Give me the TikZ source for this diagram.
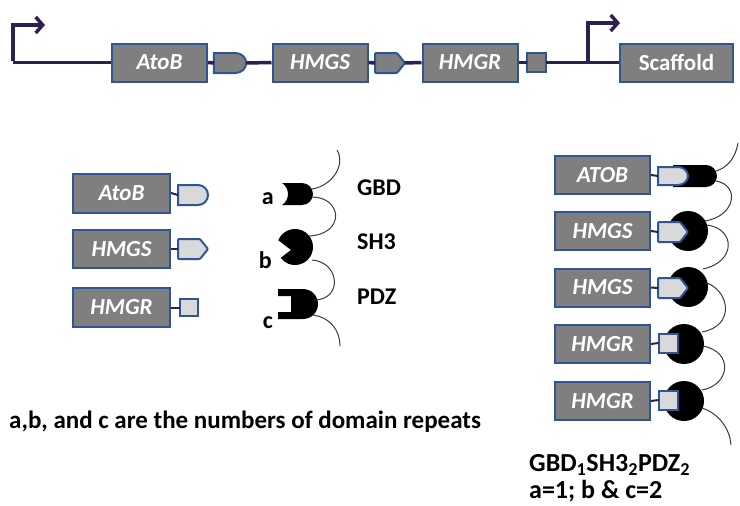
\documentclass[tikz,border=0pt]{standalone}
\usepackage{fontspec}
\setmainfont{Carlito}
\usetikzlibrary{arrows.meta}
\definecolor{boxgray}{RGB}{127,127,127}
\definecolor{boxblue}{RGB}{47,85,151}
\definecolor{backbone}{RGB}{45,32,80}
\definecolor{liglight}{RGB}{217,217,217}
\definecolor{tethercol}{RGB}{60,60,60}
\tikzset{
  gene/.style={draw=boxblue, fill=boxgray, line width=2pt, text=white,
    font=\fontsize{23}{27}\selectfont\bfseries\itshape,
    minimum width=95pt, minimum height=38pt, inner sep=0pt},
  generoman/.style={gene, font=\fontsize{23}{27}\selectfont\bfseries},
  bb/.style={draw=backbone, line width=3.5pt},
  prom/.style={bb, -{Straight Barb[length=7pt,width=16pt]}},
  link/.style={draw=backbone, line width=2pt},
  tether/.style={draw=tethercol, line width=1pt},
  lab/.style={font=\fontsize{24}{28}\selectfont\bfseries, text=black, inner sep=0pt},
  bigtxt/.style={font=\fontsize{25}{29}\selectfont\bfseries, text=black, inner sep=0pt},
  ligdome/.pic={
    \path[pic actions] (-15,-10) -- (5,-10) arc[start angle=-90,end angle=90,radius=10] -- (-15,10) -- cycle;
    \coordinate (-w) at (-15,0); \coordinate (-e) at (15,0);},
  ligpent/.pic={
    \path[pic actions, rounded corners=1pt] (-15,-10) -- (7,-10) -- (15,0) -- (7,10) -- (-15,10) -- cycle;
    \coordinate (-w) at (-15,0); \coordinate (-e) at (15,0);},
  ligsq/.pic={
    \path[pic actions] (-9.5,-9.5) rectangle (9.5,9.5);
    \coordinate (-w) at (-9.5,0); \coordinate (-e) at (9.5,0);},
  ligtop/.style={draw=boxblue, fill=boxgray, line width=2pt},
  liglo/.style={draw=boxblue, fill=liglight, line width=2pt}
}
\begin{document}
\begin{tikzpicture}[x=1pt,y=-1pt]
\useasboundingbox (0,0) rectangle (740,506);
\fill[white] (0,0) rectangle (740,506);

% ---------- top construct ----------
\node[gene] (atob) at (159.5,62.5) {AtoB};
\node[gene] (hmgs) at (320,62.5) {HMGS};
\node[gene] (hmgr) at (470,62.5) {HMGR};
\node[generoman, minimum width=113pt] (scaf) at (676.5,62.5) {Scaffold};
\pic[ligtop, xscale=1.08] (d1) at (230,63) {ligdome};
\pic[ligtop] (pe1) at (390,63) {ligpent};
\pic[ligtop] (sq1) at (536,62.5) {ligsq};
\coordinate (p1) at (13,62.5);
\coordinate (p1tip) at (45,25);
\coordinate (p2) at (588,62.5);
\coordinate (p2tip) at (620,23);
\draw[bb] (p1) -- (atob.west);
\draw[bb] (atob.east) -- (d1-w);
\draw[bb] (d1-e) -- (hmgs.west);
\draw[bb] (hmgs.east) -- (pe1-w);
\draw[bb] (pe1-e) -- (hmgr.west);
\draw[bb] (hmgr.east) -- (sq1-w);
\draw[bb] (sq1-e) -- (scaf.west);
\draw[prom] ([yshift=1.75pt]p1) |- (p1tip);
\draw[prom] (p2) |- (p2tip);

% ---------- middle left: enzymes with ligands ----------
\node[gene, minimum width=97pt, minimum height=39pt] (atobm) at (121.5,193) {AtoB};
\node[gene, minimum width=97pt, minimum height=38pt] (hmgsm) at (121.5,249) {HMGS};
\node[gene, minimum width=97pt, minimum height=39pt] (hmgrm) at (121.5,307.5) {HMGR};
\pic[liglo] (d2) at (193,195) {ligdome};
\pic[liglo] (pe2) at (193,249) {ligpent};
\pic[liglo, scale=0.9] (sq2) at (189,307.5) {ligsq};
\draw[link] (atobm.east) -- (d2-w);
\draw[link] (hmgsm.east) -- (pe2-w);
\draw[link] (hmgrm.east) -- (sq2-w);

% ---------- middle: domains ----------
\coordinate (t0) at (337,150);
\coordinate (t4) at (340,346);
\fill (282,183) -- (302,183) arc[start angle=-90,end angle=90,radius=11] -- (282,205)
   .. controls (290,200) and (290,188) .. (282,183) -- cycle;
\fill (295,247) ++(202:18) arc[start angle=202,end angle=503,radius=18] -- (291,250) -- cycle;
\fill (278,289) -- (303,289) arc[start angle=-90,end angle=90,radius=15] -- (278,319)
   -- (278,312) -- (291,312) -- (291,296) -- (278,296) -- cycle;
\coordinate (g1a) at (312,189);
\coordinate (g1b) at (312,197);
\coordinate (s1a) at (309,236);
\coordinate (s1b) at (312,260);
\coordinate (z1a) at (314,300);
\coordinate (z1b) at (313,315);
\draw[tether] (t0) .. controls (346,165) and (332,186) .. (g1a);
\draw[tether] (g1b) .. controls (342,197) and (346,234) .. (s1a);
\draw[tether] (s1b) .. controls (340,262) and (343,300) .. (z1a);
\draw[tether] (z1b) .. controls (332,318) and (340,332) .. (t4);
\node[lab, anchor=east] (la) at (274,199) {a};
\node[lab, anchor=east] (lb) at (272,260) {b};
\node[lab, anchor=east] (lc) at (273,323) {c};
\node[lab, anchor=west] (lgbd) at (357,188) {GBD};
\node[lab, anchor=west] (lsh3) at (357,242) {SH3};
\node[lab, anchor=west] (lpdz) at (357,297) {PDZ};

% ---------- right: assembled complex ----------
\fill (673,165) -- (706,165) arc[start angle=-90,end angle=90,radius=11] -- (673,187) -- cycle;
\fill (688,231) circle[radius=20];
\fill (688,287) circle[radius=20];
\fill (684,344) circle[radius=20];
\fill (684,401) circle[radius=20];
\node[gene] (r1) at (602.5,175) {ATOB};
\node[gene] (r2) at (602.5,231) {HMGS};
\node[gene] (r3) at (602.5,287.5) {HMGS};
\node[gene] (r4) at (602.5,344) {HMGR};
\node[gene] (r5) at (602.5,401) {HMGR};
\pic[liglo, yscale=0.9] (rl1) at (673,176) {ligdome};
\pic[liglo] (rl2) at (673,232) {ligpent};
\pic[liglo] (rl3) at (673,288) {ligpent};
\pic[liglo] (rl4) at (668,343) {ligsq};
\pic[liglo] (rl5) at (668,400) {ligsq};
\draw[link] (r1.east) -- (rl1-w);
\draw[link] (r2.east) -- (rl2-w);
\draw[link] (r3.east) -- (rl3-w);
\draw[link] (r4.east) -- (rl4-w);
\draw[link] (r5.east) -- (rl5-w);
\coordinate (u0) at (738,143);
\coordinate (u6) at (731,445);
\draw[tether] (u0) .. controls (735,160) and (726,168) .. (716,171);
\draw[tether] (716,181) .. controls (740,185) and (736,216) .. (705,221);
\draw[tether] (707,225) .. controls (736,229) and (736,262) .. (703,269);
\draw[tether] (707,283) .. controls (730,292) and (735,326) .. (702,332);
\draw[tether] (703,346) .. controls (734,352) and (730,385) .. (702,390);
\draw[tether] (702,408) .. controls (720,414) and (730,430) .. (u6);

% ---------- captions ----------
\node[bigtxt, anchor=west] (note) at (9,422) {a,b, and c are the numbers of domain repeats};
\node[bigtxt, font=\fontsize{26}{30}\selectfont\bfseries, anchor=west] (formula) at (529,465)
   {GBD\textsubscript{1}SH3\textsubscript{2}PDZ\textsubscript{2}};
\node[bigtxt, font=\fontsize{26}{30}\selectfont\bfseries, anchor=west] (vals) at (529,491) {a=1; b \& c=2};
\end{tikzpicture}
\end{document}
